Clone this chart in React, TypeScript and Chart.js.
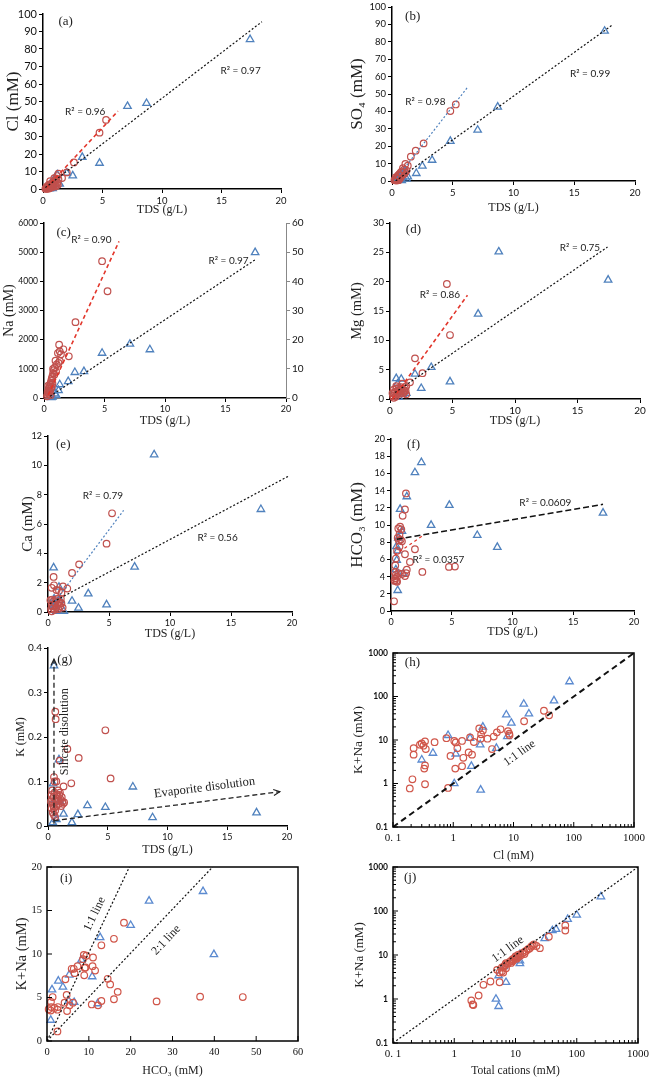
import React, { useEffect, useRef } from 'react';
import { Chart, registerables } from 'chart.js';

Chart.register(...registerables);

type P = [number, number];

// ---------------- (a) Cl vs TDS
const clBlue: P[] = [[17.4, 85.5], [8.7, 49], [7.1, 47.3], [4.75, 14.8], [3.3, 18.2], [2.5, 7.6], [2.0, 9.2], [1.2, 8.2], [1.4, 2.9], [1.0, 6.5], [0.62, 2.9], [0.45, 0.8], [0.8, 0.3], [0.9, 1.6], [0.55, 0.2]];
const clRed: P[] = [[5.3, 39.5], [4.75, 32.2], [2.6, 15.2], [2.0, 9.5], [1.6, 6.3], [1.3, 8.7], [1.2, 7.4], [1.1, 5.5], [1.0, 4.8], [0.9, 4.2], [0.8, 3.5], [0.6, 4.5], [0.7, 3.0], [0.5, 2.5], [0.4, 1.8], [0.3, 1.2], [0.25, 0.6], [0.35, 0.3], [0.5, 0.9], [0.6, 1.5], [0.7, 2.0], [0.8, 1.2], [0.9, 2.5], [1.0, 3.0], [1.1, 2.2], [1.2, 3.5], [0.45, 0.2], [0.55, 0.5], [0.3, 0.2], [0.2, 0.1], [1.3, 5.5], [0.95, 6.2], [0.65, 0.8], [0.75, 1.6], [0.85, 2.8], [1.05, 1.5], [1.25, 2.4], [0.4, 0.5]];
const clBlueFit: P[] = [[0.2, 0.8], [18.4, 95.6]];
const clRedFit: P[] = [[0.25, 0.5], [6.3, 44.5]];

// ---------------- (b) SO4 vs TDS
const so4Blue: P[] = [[17.5, 86.2], [8.7, 42.6], [7.05, 29.3], [4.8, 22.9], [3.3, 12], [2.5, 8.6], [2.0, 4.4], [1.3, 2.5], [0.8, 0.3], [1.0, 5.5], [0.6, 0.8], [0.5, 1.5], [1.2, 1.2], [0.9, 2]];
const so4Red: P[] = [[5.25, 44], [4.8, 40.2], [2.6, 21.6], [1.95, 17.4], [1.55, 14], [1.1, 9.8], [1.3, 8.8], [0.9, 7.4], [1.0, 6.5], [1.2, 6], [0.8, 5.5], [0.7, 4.8], [0.6, 4], [0.5, 3.2], [0.45, 2.5], [0.4, 1.8], [0.35, 1.2], [0.3, 0.8], [0.25, 0.4], [0.5, 1], [0.6, 2.2], [0.7, 3], [0.8, 3.8], [0.9, 4.5], [1.0, 4], [1.1, 5], [0.55, 0.5], [0.4, 0.3], [0.65, 1.5], [0.75, 2.5], [0.3, 2], [0.2, 0.5]];
const so4BlueFit: P[] = [[0.3, 0], [18.2, 90]];
const so4RedFit: P[] = [[0.2, 0], [6.2, 53.7]];

// ---------------- (c) Na vs TDS (red: left axis, blue: right axis)
const naBlue: P[] = [[17.45, 49.9], [7.1, 18.5], [8.75, 16.6], [4.8, 15.4], [3.3, 9.1], [2.55, 8.8], [2.0, 5.7], [1.3, 4.6], [1.2, 2.6], [0.9, 1.5], [0.7, 0.4], [0.8, 2.5], [0.6, 0.2], [1.0, 1.0]];
const naRed: P[] = [[4.8, 4690], [5.25, 3660], [2.6, 2600], [1.25, 1830], [2.05, 1430], [1.6, 1670], [1.3, 1600], [1.15, 1540], [1.4, 1500], [1.3, 1270], [0.95, 1280], [1.05, 1150], [1.2, 1200], [0.9, 1050], [0.8, 950], [0.75, 850], [0.85, 800], [0.7, 750], [0.65, 680], [0.6, 600], [0.55, 520], [0.5, 450], [0.45, 380], [0.4, 320], [0.35, 260], [0.3, 200], [0.3, 120], [0.25, 60], [0.5, 250], [0.6, 350], [0.7, 500], [0.4, 150], [0.55, 100], [0.45, 200], [0.65, 400], [0.35, 420], [0.75, 1000], [1.0, 900]];
const naBlueFit: P[] = [[0.5, 0.6], [17.45, 47.4]];
const naRedFit: P[] = [[0.35, 100], [6.2, 5370]];

// ---------------- (d) Mg vs TDS
const mgBlue: P[] = [[8.7, 25.1], [17.45, 20.3], [7.05, 14.5], [3.3, 5.4], [2.0, 4.26], [4.8, 2.95], [2.5, 1.82], [0.5, 3.5], [0.9, 3.4], [0.7, 0.3], [1.3, 1.0], [0.6, 2.6], [0.8, 1.8], [1.0, 0.8]];
const mgRed: P[] = [[4.55, 19.6], [4.8, 10.9], [2.0, 6.93], [2.6, 4.4], [1.6, 2.84], [1.0, 2.6], [1.2, 1.8], [1.3, 2.2], [1.1, 1.5], [0.9, 2.0], [0.8, 1.6], [0.7, 1.9], [0.6, 1.4], [0.5, 1.8], [0.4, 1.2], [0.3, 1.6], [0.35, 0.9], [0.25, 0.5], [0.45, 0.4], [0.55, 0.8], [0.65, 1.0], [0.75, 1.2], [0.85, 0.9], [0.95, 1.3], [1.05, 1.0], [1.15, 1.2], [1.25, 1.4], [0.3, 0.2], [0.2, 1.0], [0.5, 2.2], [1.3, 0.8]];
const mgBlueFit: P[] = [[0.4, 1.1], [17.4, 25.9]];
const mgRedFit: P[] = [[0.2, 0], [6.2, 17.7]];

// ---------------- (e) Ca vs TDS
const caBlue: P[] = [[8.7, 10.73], [17.45, 7.0], [7.1, 3.07], [3.3, 1.25], [1.97, 0.75], [4.8, 0.5], [2.5, 0.27], [0.46, 3.02], [0.9, 1.7], [0.7, 0.05], [1.3, 0.05], [0.6, 0.4], [1.0, 0.8], [0.5, 0.9]];
const caRed: P[] = [[5.25, 6.73], [4.8, 4.66], [2.55, 3.25], [1.97, 2.66], [1.58, 1.6], [1.23, 1.75], [0.46, 2.39], [0.49, 1.82], [0.3, 1.65], [1.1, 1.3], [0.9, 1.45], [0.7, 1.5], [0.2, 0.8], [0.3, 0.5], [0.4, 0.7], [0.5, 0.4], [0.6, 0.6], [0.7, 0.3], [0.8, 0.5], [0.9, 0.7], [1.0, 0.4], [1.1, 0.6], [1.2, 0.3], [0.25, 0.2], [0.35, 0.85], [0.45, 0.25], [0.55, 0.15], [0.65, 0.8], [0.75, 0.9], [0.85, 0.2], [0.95, 0.6], [1.05, 0.9], [0.3, 0.05], [0.4, 0.4]];
const caBlueFit: P[] = [[0.15, 0.57], [19.8, 9.3]];
const caRedFit: P[] = [[0.2, 0.3], [6.2, 6.93]];

// ---------------- (f) HCO3 vs TDS
const hco3Blue: P[] = [[17.45, 11.4], [8.75, 7.42], [7.1, 8.8], [4.8, 12.3], [3.3, 9.98], [2.5, 17.28], [1.97, 16.1], [1.3, 13.3], [0.75, 11.84], [0.9, 9.28], [0.47, 5.9], [0.55, 2.4], [1.0, 4.35], [0.45, 7.5], [0.6, 8.5], [0.4, 4.8], [0.55, 7.0]];
const hco3Red: P[] = [[1.23, 13.67], [1.15, 11.8], [0.96, 11.07], [0.75, 9.8], [0.85, 9.5], [0.6, 9.6], [0.7, 8.9], [0.55, 8.5], [0.65, 8.2], [0.8, 8.3], [0.9, 8.1], [0.7, 7.5], [0.5, 7.0], [1.15, 6.6], [1.97, 7.18], [1.56, 5.7], [1.3, 4.8], [1.25, 4.4], [1.15, 4.07], [2.58, 4.54], [4.77, 5.13], [5.26, 5.17], [0.25, 1.13], [0.3, 3.5], [0.35, 3.8], [0.4, 4.2], [0.45, 3.5], [0.5, 4.0], [0.6, 4.4], [0.3, 4.5], [0.35, 5.3], [0.4, 6.1], [0.9, 4.3], [0.5, 3.4], [0.3, 3.6]];
const hco3BlueFit: P[] = [[0.47, 8.35], [17.45, 12.4]];
const hco3RedFit: P[] = [[0.3, 6.5], [2.6, 8.75]];

// ---------------- (g) K vs TDS
const kBlue: P[] = [[0.5, 0.36], [17.45, 0.03], [8.75, 0.019], [7.1, 0.088], [4.8, 0.042], [3.3, 0.046], [2.5, 0.026], [2.0, 0.008], [1.3, 0.027], [0.92, 0.149], [0.42, 0.095], [0.7, 0.015], [0.4, 0.008], [0.6, 0.06], [1.0, 0.055]];
const kRed: P[] = [[0.61, 0.257], [0.64, 0.24], [4.8, 0.215], [1.62, 0.173], [2.57, 0.153], [0.98, 0.147], [5.24, 0.107], [1.95, 0.096], [1.3, 0.089], [0.5, 0.11], [0.55, 0.1], [0.7, 0.1], [0.3, 0.07], [0.35, 0.06], [0.4, 0.05], [0.45, 0.065], [0.5, 0.04], [0.55, 0.075], [0.6, 0.035], [0.65, 0.055], [0.7, 0.045], [0.75, 0.07], [0.8, 0.06], [0.85, 0.08], [0.9, 0.05], [0.95, 0.07], [1.0, 0.075], [1.05, 0.06], [1.1, 0.045], [1.2, 0.055], [1.25, 0.05], [1.35, 0.053], [0.3, 0.04], [0.25, 0.055], [0.4, 0.03], [0.5, 0.025], [0.6, 0.02], [0.35, 0.08], [0.45, 0.045], [1.15, 0.065]];
const silicateArrow: P[] = [[0.5, 0.005], [0.5, 0.375]];
const evaporiteArrow: P[] = [[0.5, 0.012], [19.4, 0.077]];

// ---------------- (h) K+Na vs Cl (log-log)
const hBlue: P[] = [[85, 220], [47, 80], [14.8, 67], [18, 40], [7.6, 38], [9.2, 24.6], [3.1, 20], [7.9, 12], [0.82, 12.8], [1.9, 11], [2.8, 7.8], [5.2, 6.5], [0.46, 5], [1.1, 4.8], [0.3, 3.5], [2.0, 2.5], [1.04, 1.0], [2.85, 0.71]];
const hRed: P[] = [[32, 47], [39, 37], [15, 27], [8.1, 16], [8.5, 14], [8.6, 12.8], [6.1, 17.6], [5.3, 15], [4.7, 12], [3.7, 10.7], [2.7, 18.5], [3.1, 16.5], [2.9, 13.5], [2.85, 10.7], [2.2, 9], [1.9, 11.5], [1.4, 9.5], [1.04, 9.5], [1.1, 8.8], [0.77, 11], [1.17, 6.5], [0.9, 4.3], [1.47, 3.9], [2.05, 4.6], [1.8, 5.2], [1.08, 2.2], [1.4, 2.5], [4.4, 6.2], [0.82, 0.79], [0.49, 8.9], [0.34, 9.3], [0.28, 7.8], [0.3, 8.3], [0.32, 7.4], [0.35, 6.2], [0.22, 6.5], [0.22, 4.6], [0.33, 2.2], [0.34, 2.6], [0.34, 0.96], [0.21, 1.25], [0.19, 0.77]];
const hOneToOne: P[] = [[0.1, 0.1], [1000, 1000]];

// ---------------- (i) K+Na vs HCO3
const iBlue: P[] = [[37.3, 17.2], [24.4, 16.1], [20, 13.3], [12.7, 11.9], [39.9, 9.95], [10.8, 7.4], [8.2, 9.3], [5.3, 7.6], [2.7, 6.9], [3.8, 6.2], [1.2, 5.9], [0.9, 2.4], [6.5, 4.45], [12.1, 4.3], [5.2, 4.6]];
const iRed: P[] = [[46.8, 5.05], [36.6, 5.1], [26.2, 4.55], [18.4, 13.6], [16, 11.75], [13, 11], [14.5, 7.15], [15.1, 6.5], [16.9, 5.65], [16, 4.8], [13, 4.6], [10.7, 4.2], [12.2, 4.1], [11, 9.6], [10.9, 8.6], [11.5, 8.1], [9.4, 9.8], [8.8, 9.9], [8.6, 9.4], [9, 8.4], [9.2, 8.45], [8.9, 7.55], [7.3, 8.6], [6.4, 8.3], [6.6, 7.8], [5.9, 8.3], [4.4, 7.1], [4.7, 5.3], [4.2, 4.4], [4.8, 3.45], [5.4, 4.1], [6.2, 4.4], [2.5, 3.6], [2.6, 3.9], [2.5, 1.1], [1.35, 5.05], [0.95, 4.5], [0.4, 3.65], [0.9, 3.5], [1.8, 3.8], [1.0, 3.9]];
const iOneToOne: P[] = [[0, 0], [19.7, 20]];
const iTwoToOne: P[] = [[0, 0], [39.6, 20]];

// ---------------- (j) K+Na vs total cations (log-log)
const jBlue: P[] = [[248, 212], [100, 81], [71, 65], [46, 38.6], [40, 36], [30, 23.7], [11.8, 10.4], [11.8, 7.4], [11.8, 6.4], [5.3, 3.4], [7.0, 2.4], [4.8, 1.0], [5.3, 0.68], [9.5, 8.5], [6.5, 5.5]];
const jRed: P[] = [[5.0, 4.6], [5.5, 4.0], [6.0, 4.3], [6.0, 5.2], [6.5, 5.5], [6.8, 6.0], [7.0, 6.5], [7.5, 6.3], [8.0, 7.0], [8.5, 7.4], [8.5, 6.6], [9.0, 8.0], [9.5, 8.3], [10, 8.6], [10, 9.3], [11, 9.0], [11, 10], [12, 10.5], [12, 9.6], [13, 11], [14, 11.7], [15, 12.5], [16, 13.5], [17, 14], [18, 15.5], [19, 16.5], [20, 17.5], [22, 16], [25, 14.3], [35, 26], [65, 47], [65, 36], [7, 5], [9, 7.2], [6.3, 4.0], [3.9, 2.5], [5.5, 2.4], [3.0, 2.1], [2.5, 1.2], [1.9, 0.93], [2.0, 0.75], [2.05, 0.73], [14, 10.5], [10.5, 8.2]];
const jOneToOne: P[] = [[0.1, 0.1], [1000, 1000]];

// ---------------- tick values / labels
const LOG_TICKS = [0.1, 1, 10, 100, 1000];
const LOG_X_LABELS = ['0. 1', '1', '10', '100', '1000'];
const LOG_Y_LABELS = ['0.1', '1', '10', '100', '1000'];

// ---------------- styling
const SANS = 'Lato';
const SERIF = 'Liberation Serif';
const RED_A = '#C0504D';
const BLUE_A = '#4F81BD';
const RED_H = '#D0564A';
const BLUE_H = '#5B8AD0';
const FIT_RED = '#E2362B';
const W = 325;
const H = 240;
const OFF = 12;

interface AxisSpec {
  min: number; max: number; step?: number; log?: boolean;
  ticks?: number[]; labels?: string[];
  title: string; titleSize: number; titlePos: number;
  tickFamily: string; tickSize: number; tickWeight?: string;
}
interface Fit { pts: P[]; color: string; dash: number[]; width: number; axis?: string; arrow?: boolean }
interface Note { text: string; at: P; font: string; axis?: string; rotate?: number; along?: P[] }
interface Panel {
  key: string; cellX: number; cellY: number; area: [number, number, number, number];
  x: AxisSpec; y: AxisSpec; y1?: AxisSpec;
  red: P[]; blue: P[]; blueAxis?: string;
  fits: Fit[]; notes: Note[]; framed?: boolean;
}

const tds = (size: number, pos: number): AxisSpec => ({ min: 0, max: 20, step: 5, title: 'TDS (g/L)', titleSize: 12, titlePos: pos, tickFamily: SANS, tickSize: size });
const r2 = (text: string, at: P, axis?: string): Note => ({ text, at, font: `10px ${SANS}`, axis });
const lab = (text: string, at: P): Note => ({ text, at, font: `13px "${SERIF}"` });
const dotted = (pts: P[], color = '#111', axis?: string): Fit => ({ pts, color, dash: [2, 2], width: 1.2, axis });
const dashedRed = (pts: P[]): Fit => ({ pts, color: FIT_RED, dash: [4, 3], width: 1.6 });

const PANELS: Panel[] = [
  {
    key: 'a', cellX: 0, cellY: 0, area: [43, 14, 281, 189],
    x: tds(9.5, 210),
    y: { min: 0, max: 100, step: 10, title: 'Cl (mM)', titleSize: 17, titlePos: 14, tickFamily: SANS, tickSize: 11 },
    red: clRed, blue: clBlue,
    fits: [dotted(clBlueFit), dashedRed(clRedFit)],
    notes: [lab('(a)', [1.9, 95.6]), r2('R² = 0.97', [16.6, 67.7]), r2('R² = 0.96', [3.55, 44])],
  },
  {
    key: 'b', cellX: 325, cellY: 0, area: [67, 7, 310, 181],
    x: tds(9.5, 208),
    y: { min: 0, max: 100, step: 10, title: 'SO₄ (mM)', titleSize: 17, titlePos: 33, tickFamily: SANS, tickSize: 9.5 },
    red: so4Red, blue: so4Blue,
    fits: [dotted(so4BlueFit), dotted(so4RedFit, BLUE_A)],
    notes: [lab('(b)', [1.7, 94.6]), r2('R² = 0.99', [16.3, 61.4]), r2('R² = 0.98', [2.74, 45.5])],
  },
  {
    key: 'c', cellX: 0, cellY: 216, area: [44, 7, 286, 182],
    x: tds(9, 205),
    y: { min: 0, max: 6000, step: 1000, title: 'Na (mM)', titleSize: 14, titlePos: 9, tickFamily: SANS, tickSize: 8.5 },
    y1: { min: 0, max: 60, step: 10, title: '', titleSize: 12, titlePos: 0, tickFamily: SANS, tickSize: 10 },
    red: naRed, blue: naBlue, blueAxis: 'y1',
    fits: [dotted(naBlueFit, '#111', 'y1'), dashedRed(naRedFit)],
    notes: [lab('(c)', [1.63, 5680]), r2('R² = 0.90', [3.92, 5428]), r2('R² = 0.97', [15.25, 47.2], 'y1')],
  },
  {
    key: 'd', cellX: 325, cellY: 216, area: [65, 7, 315, 183],
    x: tds(10, 205),
    y: { min: 0, max: 30, step: 5, title: 'Mg (mM)', titleSize: 14.5, titlePos: 32, tickFamily: SANS, tickSize: 9.5 },
    red: mgRed, blue: mgBlue,
    fits: [dotted(mgBlueFit), dashedRed(mgRedFit)],
    notes: [lab('(d)', [1.87, 28.9]), r2('R² = 0.75', [15.2, 25.7]), r2('R² = 0.86', [4.0, 17.7])],
  },
  {
    key: 'e', cellX: 0, cellY: 432, area: [48, 4, 292, 180],
    x: tds(9, 202),
    y: { min: 0, max: 12, step: 2, title: 'Ca (mM)', titleSize: 15, titlePos: 28, tickFamily: SANS, tickSize: 9 },
    red: caRed, blue: caBlue,
    fits: [dotted(caBlueFit), dotted(caRedFit, BLUE_A)],
    notes: [lab('(e)', [1.25, 11.4]), r2('R² = 0.79', [4.5, 7.9]), r2('R² = 0.56', [13.9, 5.07])],
  },
  {
    key: 'f', cellX: 325, cellY: 432, area: [66, 7, 309, 179],
    x: tds(9, 200),
    y: { min: 0, max: 20, step: 2, title: 'HCO₃ (mM)', titleSize: 17, titlePos: 33, tickFamily: SANS, tickSize: 9 },
    red: hco3Red, blue: hco3Blue,
    fits: [{ pts: hco3BlueFit, color: '#111', dash: [6, 3], width: 1.5 }, { pts: hco3RedFit, color: FIT_RED, dash: [3, 3], width: 1.2 }],
    notes: [lab('(f)', [1.85, 19.3]), r2('R² = 0.0609', [12.7, 12.6]), r2('R² = 0.0357', [3.9, 6.0])],
  },
  {
    key: 'g', cellX: 0, cellY: 648, area: [48, 0, 287, 178],
    x: tds(9, 202),
    y: { min: 0, max: 0.4, step: 0.1, title: 'K (mM)', titleSize: 12, titlePos: 21, tickFamily: SANS, tickSize: 10 },
    red: kRed, blue: kBlue,
    fits: [
      { pts: silicateArrow, color: '#222', dash: [5, 3], width: 1.3, arrow: true },
      { pts: evaporiteArrow, color: '#222', dash: [5, 3], width: 1.3, arrow: true },
    ],
    notes: [
      lab('(g)', [1.4, 0.373]),
      { text: 'Silicate disolution', at: [1.45, 0.212], font: `12px "${SERIF}"`, rotate: -90 },
      { text: 'Evaporite disolution', at: [13.1, 0.086], font: `12.5px "${SERIF}"`, along: evaporiteArrow },
    ],
  },
  {
    key: 'h', cellX: 325, cellY: 648, area: [68, 5, 309, 179], framed: true,
    x: { min: 0.1, max: 1000, log: true, ticks: LOG_TICKS, labels: LOG_X_LABELS, title: 'Cl (mM)', titleSize: 11.5, titlePos: 208, tickFamily: SERIF, tickSize: 11 },
    y: { min: 0.1, max: 1000, log: true, ticks: LOG_TICKS, labels: LOG_Y_LABELS, title: 'K+Na (mM)', titleSize: 13.5, titlePos: 33, tickFamily: SANS, tickSize: 8.5, tickWeight: 'bold' },
    red: hRed, blue: hBlue,
    fits: [{ pts: hOneToOne, color: '#111', dash: [6, 4], width: 2 }],
    notes: [lab('(h)', [0.21, 590]), { text: '1:1 line', at: [12.6, 5.0], font: `12px "${SERIF}"`, along: hOneToOne }],
  },
  {
    key: 'i', cellX: 0, cellY: 864, area: [47, 3, 298, 177], framed: true,
    x: { min: 0, max: 60, step: 10, title: 'HCO₃ (mM)', titleSize: 12, titlePos: 207, tickFamily: SERIF, tickSize: 10.5 },
    y: { min: 0, max: 20, step: 5, title: 'K+Na (mM)', titleSize: 14.5, titlePos: 22, tickFamily: SERIF, tickSize: 10.5 },
    red: iRed, blue: iBlue,
    fits: [dotted(iOneToOne), dotted(iTwoToOne)],
    notes: [
      lab('(i)', [4.6, 18.66]),
      { text: '1:1 line', at: [11.4, 14.6], font: `12px "${SERIF}"`, along: iOneToOne },
      { text: '2:1 line', at: [28.5, 11.6], font: `12px "${SERIF}"`, along: iTwoToOne },
    ],
  },
  {
    key: 'j', cellX: 325, cellY: 864, area: [68, 3, 313, 179], framed: true,
    x: { min: 0.1, max: 1000, log: true, ticks: LOG_TICKS, labels: LOG_X_LABELS, title: 'Total cations (mM)', titleSize: 11.5, titlePos: 207, tickFamily: SERIF, tickSize: 11 },
    y: { min: 0.1, max: 1000, log: true, ticks: LOG_TICKS, labels: LOG_Y_LABELS, title: 'K+Na (mM)', titleSize: 13, titlePos: 35, tickFamily: SANS, tickSize: 8.5, tickWeight: 'bold' },
    red: jRed, blue: jBlue,
    fits: [dotted(jOneToOne)],
    notes: [lab('(j)', [0.19, 573]), { text: '1:1 line', at: [7.5, 13.5], font: `12px "${SERIF}"`, along: jOneToOne }],
  },
];

const toXY = (a: P[]) => a.map(([x, y]) => ({ x, y }));
const fmt = (v: number) => String(Math.round(v * 1000) / 1000);

function axisOpts(a: AxisSpec, dir: 'x' | 'y' | 'y1', size: number, framed: boolean): any {
  const lh = a.titleSize * 1.2;
  const pad = dir === 'x'
    ? { top: 0, bottom: H - (a.titlePos + OFF) - lh / 2 }
    : { top: a.titlePos - lh / 2, bottom: 0 };
  const lineColor = dir === 'y1' ? '#888' : '#000';
  return {
    type: a.log ? 'logarithmic' : 'linear',
    position: dir === 'x' ? 'bottom' : dir === 'y' ? 'left' : 'right',
    min: a.min,
    max: a.max,
    afterBuildTicks: (s: any) => {
      if (a.ticks) s.ticks = a.ticks.map((v) => ({ value: v }));
    },
    ticks: {
      stepSize: a.step,
      autoSkip: false,
      maxRotation: 0,
      minRotation: 0,
      padding: framed ? 5 : 2,
      color: '#111',
      font: { family: a.tickFamily, size: a.tickSize, weight: a.tickWeight || 'normal' },
      callback: (v: any) => {
        const n = Number(v);
        if (a.ticks && a.labels) {
          const i = a.ticks.indexOf(n);
          return i >= 0 ? a.labels[i] : '';
        }
        return fmt(n);
      },
    },
    grid: {
      display: true,
      drawOnChartArea: false,
      drawTicks: !framed,
      tickLength: 4,
      color: framed ? 'rgba(0,0,0,0)' : lineColor,
      lineWidth: 1,
    },
    border: { display: !framed, color: lineColor, width: dir === 'y1' ? 1 : 1.5 },
    title: a.title
      ? { display: true, text: a.title, color: '#222', font: { family: SERIF, size: a.titleSize, lineHeight: 1.2 }, padding: pad }
      : { display: false },
    afterFit: (s: any) => {
      if (dir === 'x') s.height = size;
      else s.width = size;
      s.paddingTop = 0;
      s.paddingBottom = 0;
      s.paddingLeft = 0;
      s.paddingRight = 0;
    },
  };
}

function notesPlugin(p: Panel) {
  return {
    id: 'notes',
    afterDatasetsDraw(chart: any) {
      const ctx = chart.ctx;
      for (const n of p.notes) {
        const xs = chart.scales.x;
        const ys = chart.scales[n.axis || 'y'];
        const px = xs.getPixelForValue(n.at[0]);
        const py = ys.getPixelForValue(n.at[1]);
        let ang = ((n.rotate || 0) * Math.PI) / 180;
        if (n.along) {
          const [a, b] = n.along;
          ang = Math.atan2(
            ys.getPixelForValue(b[1]) - ys.getPixelForValue(a[1]),
            xs.getPixelForValue(b[0]) - xs.getPixelForValue(a[0])
          );
        }
        ctx.save();
        ctx.translate(px, py);
        ctx.rotate(ang);
        ctx.font = n.font;
        ctx.fillStyle = '#222';
        ctx.textAlign = 'center';
        ctx.textBaseline = 'middle';
        ctx.fillText(n.text, 0, 0);
        ctx.restore();
      }
    },
  };
}

function arrowPlugin(p: Panel) {
  return {
    id: 'arrows',
    afterDatasetsDraw(chart: any) {
      const ctx = chart.ctx;
      p.fits.forEach((f, i) => {
        if (!f.arrow) return;
        const pts = chart.getDatasetMeta(i).data;
        if (pts.length < 2) return;
        const a = pts[pts.length - 2];
        const b = pts[pts.length - 1];
        const ang = Math.atan2(b.y - a.y, b.x - a.x);
        const len = 7;
        ctx.save();
        ctx.strokeStyle = f.color;
        ctx.lineWidth = 1.2;
        ctx.setLineDash([]);
        ctx.beginPath();
        ctx.moveTo(b.x - len * Math.cos(ang - 0.45), b.y - len * Math.sin(ang - 0.45));
        ctx.lineTo(b.x, b.y);
        ctx.lineTo(b.x - len * Math.cos(ang + 0.45), b.y - len * Math.sin(ang + 0.45));
        ctx.stroke();
        ctx.restore();
      });
    },
  };
}

function tickMarks(a: AxisSpec): { major: number[]; minor: number[] } {
  if (a.log && a.ticks) {
    const minor: number[] = [];
    for (let i = 0; i < a.ticks.length - 1; i++) {
      for (let k = 2; k <= 9; k++) minor.push(a.ticks[i] * k);
    }
    return { major: a.ticks, minor };
  }
  const major: number[] = [];
  const step = a.step || 1;
  for (let v = a.min; v <= a.max + 1e-9; v += step) major.push(v);
  return { major, minor: [] };
}

function framePlugin(p: Panel) {
  return {
    id: 'frame',
    afterDraw(chart: any) {
      if (!p.framed) return;
      const ctx = chart.ctx;
      const { left, top, right, bottom } = chart.chartArea;
      const xs = chart.scales.x;
      const ys = chart.scales.y;
      ctx.save();
      ctx.strokeStyle = '#000';
      ctx.lineWidth = 1;
      const xm = tickMarks(p.x);
      const ym = tickMarks(p.y);
      ctx.beginPath();
      for (const v of xm.major) { const x = xs.getPixelForValue(v); ctx.moveTo(x, bottom); ctx.lineTo(x, bottom - 5); }
      for (const v of xm.minor) { const x = xs.getPixelForValue(v); ctx.moveTo(x, bottom); ctx.lineTo(x, bottom - 3); }
      for (const v of ym.major) { const y = ys.getPixelForValue(v); ctx.moveTo(left, y); ctx.lineTo(left + 5, y); }
      for (const v of ym.minor) { const y = ys.getPixelForValue(v); ctx.moveTo(left, y); ctx.lineTo(left + 3, y); }
      ctx.stroke();
      ctx.lineWidth = 1.5;
      ctx.strokeRect(left, top, right - left, bottom - top);
      ctx.restore();
    },
  };
}

function buildConfig(p: Panel): any {
  const [l, t, r, b] = p.area;
  const framed = !!p.framed;
  const red = framed ? RED_H : RED_A;
  const blue = framed ? BLUE_H : BLUE_A;
  const scales: any = {
    x: axisOpts(p.x, 'x', H - (b + OFF), framed),
    y: axisOpts(p.y, 'y', l, framed),
  };
  if (p.y1) scales.y1 = axisOpts(p.y1, 'y1', W - r, framed);
  const datasets: any[] = [
    ...p.fits.map((f) => ({
      data: toXY(f.pts),
      showLine: true,
      pointRadius: 0,
      pointHoverRadius: 0,
      borderColor: f.color,
      backgroundColor: f.color,
      borderWidth: f.width,
      borderDash: f.dash,
      fill: false,
      tension: 0,
      yAxisID: f.axis || 'y',
    })),
    {
      data: toXY(p.red),
      showLine: false,
      pointStyle: 'circle',
      pointRadius: 3.3,
      borderColor: red,
      borderWidth: 1.2,
      backgroundColor: 'rgba(0,0,0,0)',
      yAxisID: 'y',
      clip: 8,
    },
    {
      data: toXY(p.blue),
      showLine: false,
      pointStyle: 'triangle',
      pointRadius: 4.3,
      borderColor: blue,
      borderWidth: 1.3,
      backgroundColor: 'rgba(0,0,0,0)',
      yAxisID: p.blueAxis || 'y',
      clip: 8,
    },
  ];
  return {
    type: 'scatter',
    data: { datasets },
    options: {
      responsive: false,
      maintainAspectRatio: false,
      animation: false,
      events: [],
      layout: { padding: { top: t + OFF, right: p.y1 ? 0 : W - r, left: 0, bottom: 0 } },
      plugins: { legend: { display: false }, tooltip: { enabled: false }, title: { display: false } },
      scales,
    },
    plugins: [notesPlugin(p), arrowPlugin(p), framePlugin(p)],
  };
}

function PanelChart({ p }: { p: Panel }) {
  const ref = useRef<HTMLCanvasElement>(null);
  useEffect(() => {
    if (!ref.current) return;
    const chart = new Chart(ref.current, buildConfig(p));
    return () => chart.destroy();
  }, [p]);
  return (
    <div style={{ position: 'absolute', left: p.cellX, top: p.cellY - OFF, width: W, height: H }}>
      <canvas ref={ref} width={W} height={H} style={{ width: W, height: H, display: 'block' }} />
    </div>
  );
}

export default function App() {
  return (
    <div style={{ position: 'absolute', left: 0, top: 0, width: 650, height: 1080, overflow: 'hidden', background: '#fff' }}>
      {PANELS.map((p) => (
        <PanelChart key={p.key} p={p} />
      ))}
    </div>
  );
}
